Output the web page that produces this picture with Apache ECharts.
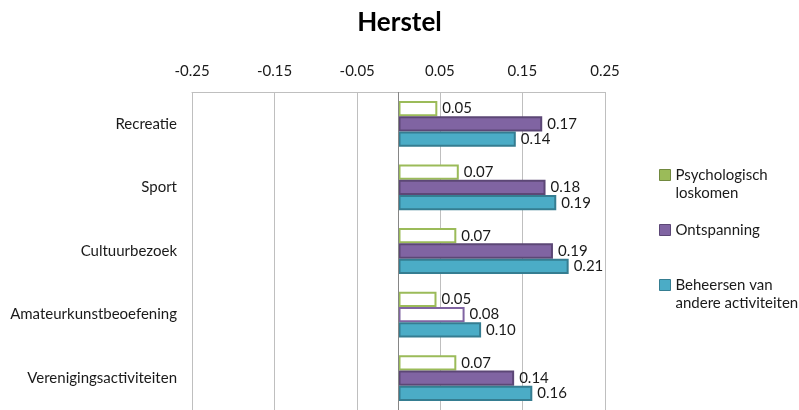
<!DOCTYPE html>
<html>
<head>
<meta charset="utf-8">
<script src="https://cdn.jsdelivr.net/npm/echarts@6/dist/echarts.min.js"></script>
<style>
html, body { margin: 0; padding: 0; background: #fff; }
#main { width: 799px; height: 410px; }
</style>
</head>
<body>
<div id="main"></div>
<script>
// data
var categories = ['Recreatie', 'Sport', 'Cultuurbezoek', 'Amateurkunstbeoefening', 'Verenigingsactiviteiten'];
var loskomen = [0.047, 0.073, 0.070, 0.046, 0.070];
var ontspanning = [0.174, 0.178, 0.187, 0.080, 0.140];
var beheersen = [0.142, 0.191, 0.206, 0.100, 0.162];
var xTicks = [-0.25, -0.15, -0.05, 0.05, 0.15, 0.25];

var FONT = 'Lato';
var myChart = echarts.init(document.getElementById('main'));

// label rechts van de balk
var valLabel = {
	show: true,
	position: 'right',
	distance: 5,
	fontFamily: FONT,
	fontSize: 15,
	color: '#1a1a1a',
	formatter: function(p) { return p.value.toFixed(2); }
};

// lege eerste regel zodat het icoon bij de eerste tekstregel staat
function legendFor(name, text, top, color, border) {
	return {
		orient: 'vertical',
		left: 659,
		top: top,
		padding: 0,
		itemWidth: 11,
		itemHeight: 11,
		icon: 'rect',
		selectedMode: false,
		data: [{ name: name, itemStyle: { color: color, borderColor: border, borderWidth: 1 } }],
		formatter: function() { return text; },
		textStyle: { fontFamily: FONT, fontSize: 15, color: '#1a1a1a', lineHeight: 18 }
	};
}

myChart.setOption({
	animation: false,
	title: {
		text: 'Herstel',
		left: 'center',
		top: 5,
		textStyle: { fontFamily: FONT, fontSize: 26, fontWeight: 'bold', color: '#000' }
	},
	legend: [
		legendFor('Psychologisch loskomen', '\nPsychologisch\nloskomen', 148, '#9BBB59', '#71893F'),
		legendFor('Ontspanning', 'Ontspanning', 221, '#8064A2', '#5C4776'),
		legendFor('Beheersen van andere activiteiten', '\nBeheersen van\nandere activiteiten', 258, '#4BACC6', '#357D91')
	],
	grid: { left: 192, right: 194, top: 92, bottom: 0, containLabel: false },
	xAxis: {
		type: 'value',
		position: 'top',
		min: -0.25,
		max: 0.25,
		axisLine: { show: true, lineStyle: { color: '#BFBFBF' } },
		axisTick: { show: false, customValues: xTicks },
		axisLabel: {
			customValues: xTicks,
			margin: 13,
			fontFamily: FONT,
			fontSize: 15,
			color: '#1a1a1a',
			formatter: function(v) { return v.toFixed(2); }
		},
		splitLine: { show: true, lineStyle: { color: '#BFBFBF', width: 1 } }
	},
	yAxis: {
		type: 'category',
		inverse: true,
		data: categories,
		axisLine: { show: false },
		axisTick: { show: false },
		axisLabel: { margin: 15, fontFamily: FONT, fontSize: 15, color: '#1a1a1a' }
	},
	series: [
		{
			name: 'Psychologisch loskomen',
			type: 'bar',
			data: loskomen,
			barGap: 0,
			barCategoryGap: '28%',
			itemStyle: { color: '#fff', borderColor: '#9BBB59', borderWidth: 2 },
			label: valLabel,
			markLine: {
				silent: true,
				symbol: 'none',
				label: { show: false },
				lineStyle: { color: '#868686', width: 1, type: 'solid' },
				data: [{ xAxis: 0 }]
			}
		},
		{
			name: 'Ontspanning',
			type: 'bar',
			data: ontspanning.map(function(v, i) {
				// Amateurkunstbeoefening: open balk
				if (i === 3) return { value: v, itemStyle: { color: '#fff', borderColor: '#8064A2' } };
				return v;
			}),
			barGap: 0,
			barCategoryGap: '28%',
			itemStyle: { color: '#8064A2', borderColor: '#5C4776', borderWidth: 2 },
			label: valLabel
		},
		{
			name: 'Beheersen van andere activiteiten',
			type: 'bar',
			data: beheersen,
			barGap: 0,
			barCategoryGap: '28%',
			itemStyle: { color: '#4BACC6', borderColor: '#357D91', borderWidth: 2 },
			label: valLabel
		}
	]
});
</script>
</body>
</html>
